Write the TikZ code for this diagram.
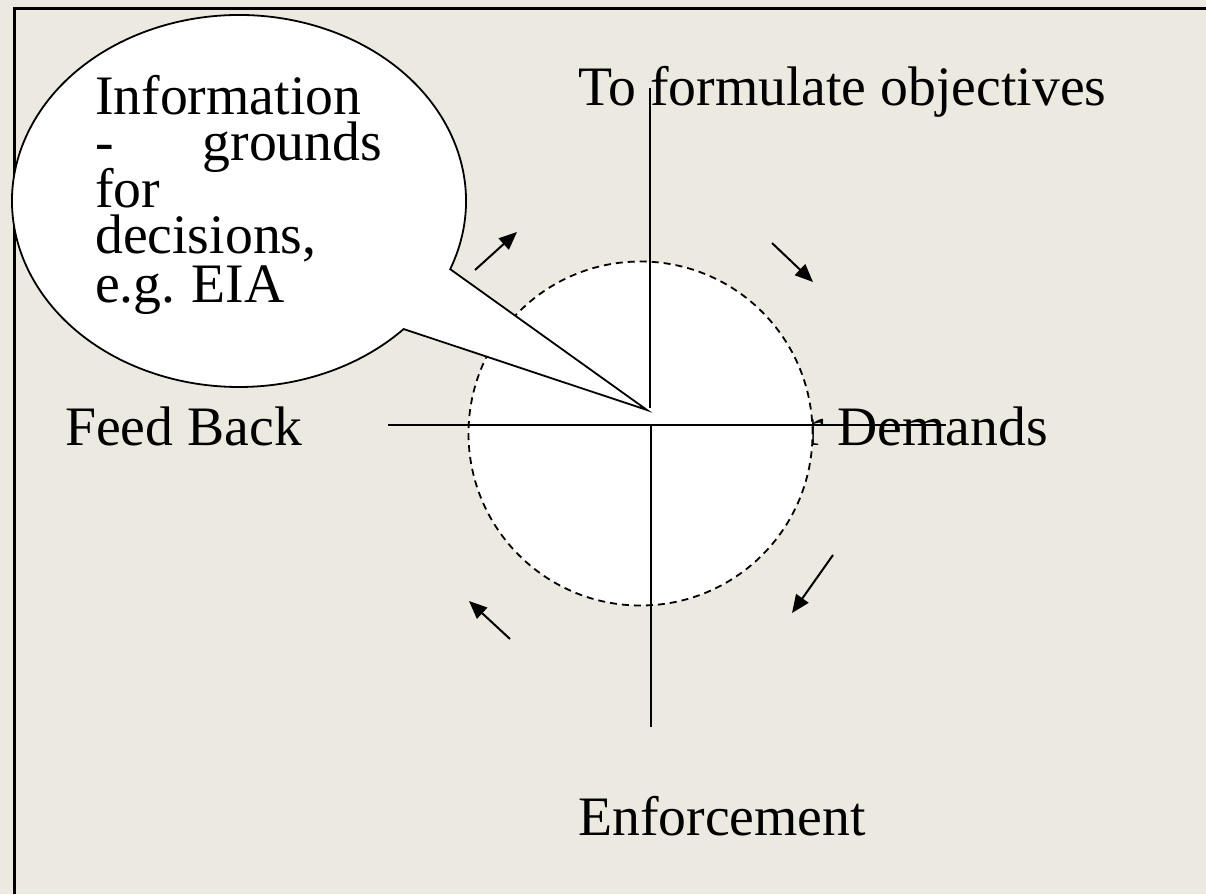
\documentclass[tikz,border=0pt]{standalone}
\usepackage{fontspec}
\setmainfont{Liberation Serif}
\usetikzlibrary{arrows.meta}
\definecolor{bg}{RGB}{236,234,224}
\begin{document}
\begin{tikzpicture}[x=1pt,y=-1pt,
  lbl/.style={inner sep=0pt, anchor=base west, font=\fontsize{55.7}{47}\selectfont},
  infoline/.style={lbl, text height=36pt, text depth=9pt},
  axisline/.style={line width=2pt},
  flow/.style={line width=2pt, -{Triangle[length=18pt,width=15pt]}},
  frameline/.style={line width=3pt},
  ringstyle/.style={draw, dash pattern=on 7pt off 5pt, circle, fill=white, minimum size=344pt, inner sep=0pt, line width=1.8pt},
  bubble/.style={draw, fill=white, line width=1.8pt, line join=miter}
]
\fill[bg] (0,0) rectangle (1206,894);
\useasboundingbox (0,0) rectangle (1206,894);
% frame
\coordinate (ftr) at (1206,8);
\coordinate (ftl) at (14.5,8);
\coordinate (fbl) at (14.5,894);
\draw[frameline] (ftr) -- (ftl) -- (fbl);
% labels
\node[lbl] (demands) at (746,445) {For Demands};
\node[lbl] (objectives) at (578,105) {To formulate objectives};
\node[lbl] (feedback) at (65,445) {Feed Back};
\node[lbl] (enforcement) at (578,835) {Enforcement};
% dashed ring
\node[ringstyle] (ring) at (640.5,433.5) {};
% axes
\coordinate (vtop) at (650,88);
\coordinate (vmid) at (650,408);
\coordinate (vlow) at (651,425);
\coordinate (vbot) at (651,727);
\coordinate (hleft) at (388,425);
\coordinate (hright) at (946,425);
\draw[axisline] (vtop) -- (vmid);
\draw[axisline] (vlow) -- (vbot);
\draw[axisline] (hleft) -- (hright);
% cycle arrows
\coordinate (a1s) at (475,270); \coordinate (a1e) at (517,232);
\coordinate (a2s) at (772,243); \coordinate (a2e) at (813,282);
\coordinate (a3s) at (833,555); \coordinate (a3e) at (792,613);
\coordinate (a4s) at (510,639); \coordinate (a4e) at (469,601);
\draw[flow] (a1s) -- (a1e);
\draw[flow] (a2s) -- (a2e);
\draw[flow] (a3s) -- (a3e);
\draw[flow] (a4s) -- (a4e);
% callout
\coordinate (tip) at (647,410);
\path[bubble] ([shift={(239,201)}]21.5:227 and 186) arc[start angle=21.5, end angle=-316.5, x radius=227, y radius=186] -- (tip) -- cycle;
\node[infoline] (info1) at (95,114) {Information};
\node[infoline] (info2) at (95,160) {\makebox[287pt][l]{-\hfill grounds}};
\node[infoline] (info3) at (95,207) {for};
\node[infoline] (info4) at (95,253) {decisions,};
\node[infoline] (info5) at (95,302) {e.g.\hspace{16pt}EIA};
\end{tikzpicture}
\end{document}
